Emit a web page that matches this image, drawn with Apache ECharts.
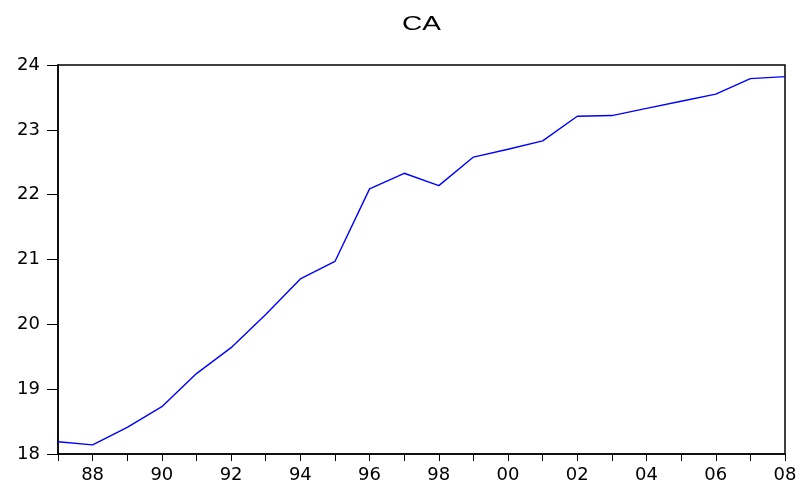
<!DOCTYPE html>
<html>
<head>
<meta charset="utf-8">
<script src="https://cdn.jsdelivr.net/npm/echarts@6/dist/echarts.min.js"></script>
<style>
  html, body { margin: 0; padding: 0; background: #fff; }
  #main { width: 800px; height: 484px; }
</style>
</head>
<body>
<div id="main"></div>
<script>
// 年份与CA取值
const years = [1987, 1988, 1989, 1990, 1991, 1992, 1993, 1994, 1995, 1996, 1997,
               1998, 1999, 2000, 2001, 2002, 2003, 2004, 2005, 2006, 2007, 2008];
const caValues = [18.19, 18.14, 18.41, 18.73, 19.24, 19.64, 20.15, 20.70, 20.97, 22.09, 22.33,
                  22.14, 22.58, 22.70, 22.83, 23.21, 23.22, 23.33, 23.44, 23.55, 23.79, 23.82];
const yTicks = [18, 19, 20, 21, 22, 23, 24];

const chart = echarts.init(document.getElementById('main'));
const font = 'DejaVu Sans, Liberation Sans, sans-serif';

const option = {
    animation: false,
    backgroundColor: '#fff',
    // 标题用graphic，横向拉宽一点，接近原图的字形
    graphic: [{
        type: 'text',
        left: 402,
        top: 14,
        scaleX: 1.4,
        style: {
            text: 'CA',
            fontFamily: 'Liberation Sans, Arial, sans-serif',
            fontSize: 20,
            fill: '#000'
        }
    }],
    grid: {
        left: 58, right: 15, top: 65, bottom: 28,
        show: true,
        borderColor: '#000',
        borderWidth: 1.5
    },
    xAxis: {
        type: 'value',
        min: years[0],
        max: years[years.length - 1],
        interval: 1,
        axisLine: { show: true, lineStyle: { color: '#000', width: 1.5 } },
        axisTick: { show: true, inside: false, length: 7, lineStyle: { color: '#000' } },
        splitLine: { show: false },
        axisLabel: {
            color: '#000', fontFamily: font, fontSize: 18, margin: 12,
            showMinLabel: true, showMaxLabel: true,
            formatter: v => (v % 2 === 0 ? String(v).slice(2) : '')
        }
    },
    yAxis: {
        type: 'value',
        min: yTicks[0],
        max: yTicks[yTicks.length - 1],
        interval: 1,
        axisLine: { show: true, lineStyle: { color: '#000', width: 1.5 } },
        axisTick: { show: true, inside: false, length: 11, lineStyle: { color: '#000' } },
        splitLine: { show: false },
        axisLabel: { color: '#000', fontFamily: font, fontSize: 18, margin: 18 }
    },
    series: [{
        type: 'line',
        data: years.map((y, i) => [y, caValues[i]]),
        showSymbol: false,
        lineStyle: { color: '#0000ff', width: 1.4 },
        itemStyle: { color: '#0000ff' }
    }]
};

chart.setOption(option);
</script>
</body>
</html>
